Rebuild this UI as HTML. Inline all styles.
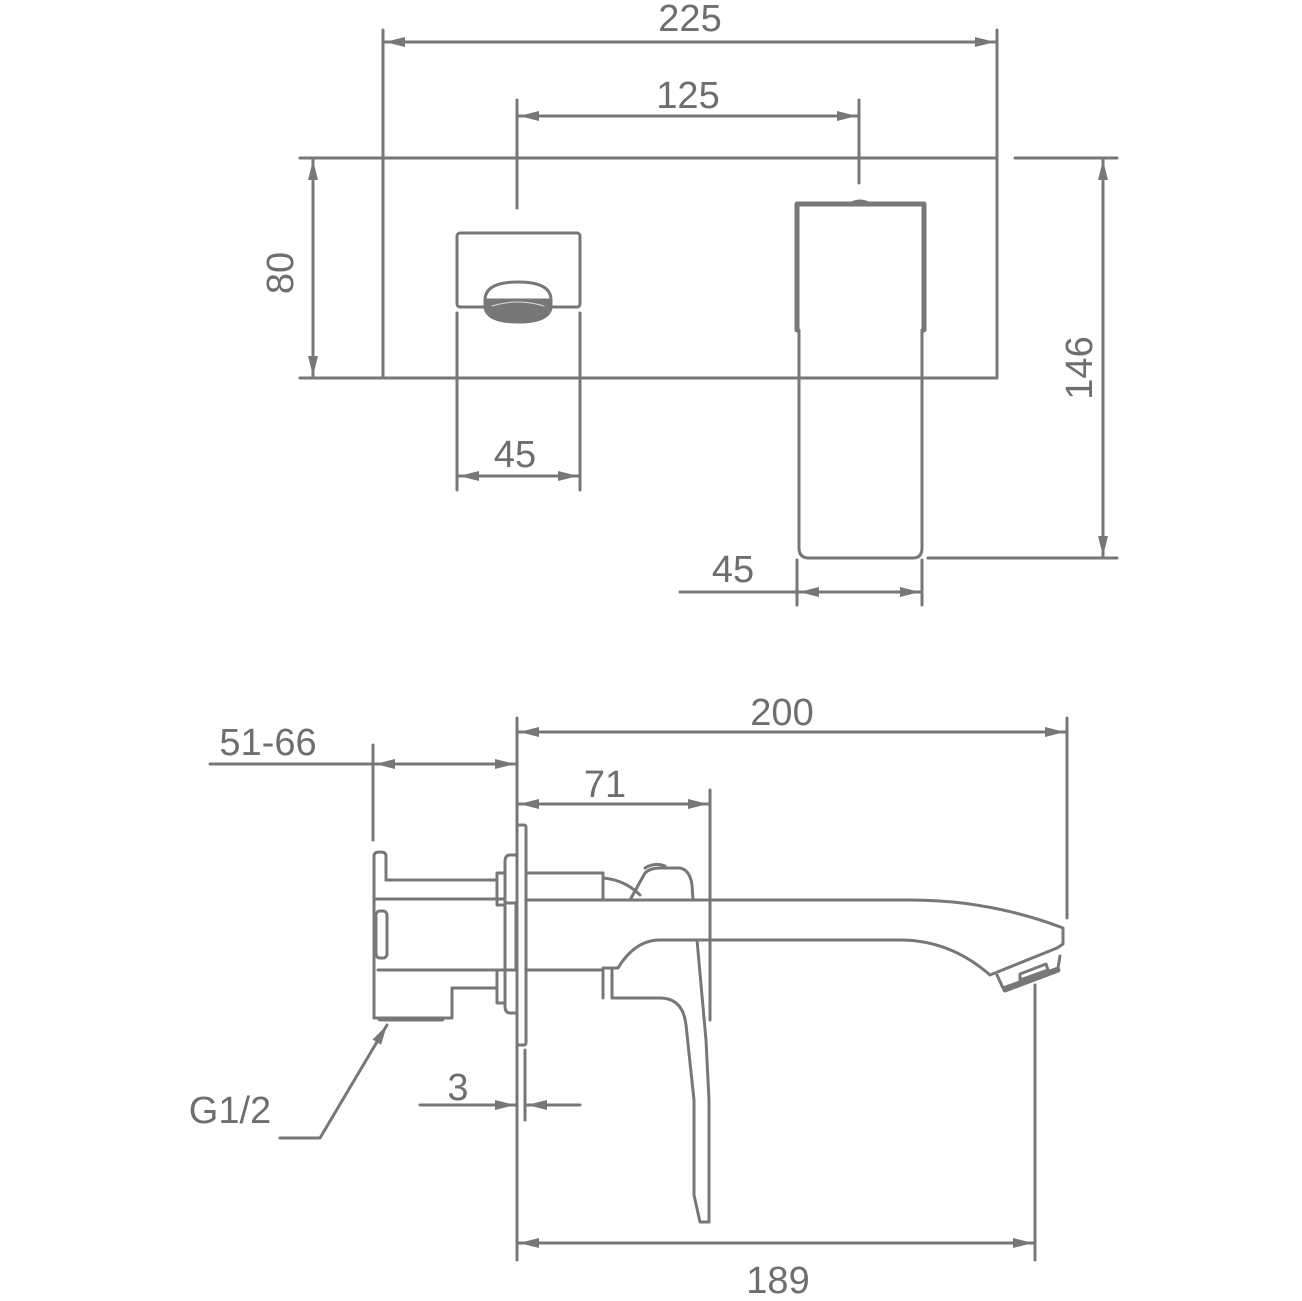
<!DOCTYPE html>
<html><head><meta charset="utf-8"><style>
html,body{margin:0;padding:0;background:#fff}
svg{display:block}
text{font-family:"Liberation Sans",Arial,sans-serif;font-size:38px;fill:#6e6e6e}
</style></head><body>
<svg width="1302" height="1301" viewBox="0 0 1302 1301" xmlns="http://www.w3.org/2000/svg">
<defs>
<marker id="a" viewBox="0 0 20 10" refX="20" refY="5" markerWidth="20" markerHeight="10" markerUnits="userSpaceOnUse" orient="auto-start-reverse">
<path d="M0,0 L20,5 L0,10 Z" fill="#777"/></marker>
</defs>
<g stroke="#777" stroke-width="3" fill="none" stroke-linecap="round" stroke-linejoin="round">
<!-- top dims -->
<line x1="383" y1="30" x2="383" y2="158"/><line x1="997" y1="30" x2="997" y2="158"/>
<line x1="385" y1="42" x2="995" y2="42" marker-start="url(#a)" marker-end="url(#a)"/>
<line x1="517" y1="100" x2="517" y2="208"/><line x1="859" y1="100" x2="859" y2="183"/>
<line x1="519" y1="116" x2="857" y2="116" marker-start="url(#a)" marker-end="url(#a)"/>
<rect x="383" y="158" width="614" height="220"/>
<line x1="300" y1="158" x2="383" y2="158"/><line x1="300" y1="378" x2="383" y2="378"/>
<line x1="313" y1="160" x2="313" y2="376" marker-start="url(#a)" marker-end="url(#a)"/>
<line x1="1015" y1="158" x2="1117" y2="158"/><line x1="928" y1="558" x2="1117" y2="558"/>
<line x1="1103" y1="160" x2="1103" y2="556" marker-start="url(#a)" marker-end="url(#a)"/>
<rect x="457" y="233" width="123" height="74" rx="3"/>
<line x1="457" y1="313" x2="457" y2="490"/><line x1="580" y1="313" x2="580" y2="490"/>
<line x1="459" y1="476" x2="578" y2="476" marker-start="url(#a)" marker-end="url(#a)"/>
<path d="M485,300 Q485,282 518,282 Q551,282 551,300"/>
<path d="M485,300 L485,308 Q488,322 518,322 Q548,322 551,308 L551,300 Z" fill="#777"/>
<path d="M492,306 Q518,298 544,306" stroke="#ddd" stroke-width="1"/>
<path d="M797,330 V204 H924 V330" stroke-width="5"/>
<path d="M850,204 Q860,198 870,204" />
<path d="M799,330 V548 Q799,558 809,558 H913 Q922,558 922,548 V330"/>
<line x1="797" y1="560" x2="797" y2="605"/><line x1="922" y1="560" x2="922" y2="605"/>
<line x1="680" y1="592" x2="920" y2="592" marker-end="url(#a)"/>
<line x1="920" y1="592" x2="799" y2="592" marker-end="url(#a)"/>
<!-- bottom dims -->
<line x1="517" y1="718" x2="517" y2="1260"/>
<line x1="1067" y1="718" x2="1067" y2="918"/>
<line x1="519" y1="732" x2="1065" y2="732" marker-start="url(#a)" marker-end="url(#a)"/>
<line x1="373" y1="745" x2="373" y2="840"/>
<line x1="210" y1="764" x2="515" y2="764" marker-end="url(#a)"/>
<line x1="515" y1="764" x2="375" y2="764" marker-end="url(#a)"/>
<line x1="710" y1="790" x2="710" y2="1020"/>
<line x1="519" y1="804" x2="708" y2="804" marker-start="url(#a)" marker-end="url(#a)"/>
<line x1="525" y1="1050" x2="525" y2="1120"/>
<line x1="420" y1="1105" x2="515" y2="1105" marker-end="url(#a)"/>
<line x1="580" y1="1105" x2="527" y2="1105" marker-end="url(#a)"/>
<line x1="1035" y1="985" x2="1035" y2="1260"/>
<line x1="519" y1="1243" x2="1033" y2="1243" marker-start="url(#a)" marker-end="url(#a)"/>
<polyline points="280,1138 320,1138 387,1025" marker-end="url(#a)"/>
<!-- side body -->
<path d="M374,1018 V856 Q374,852 380,852 Q386,852 386,856 V880"/>
<line x1="386" y1="880" x2="497" y2="880"/>
<line x1="374" y1="899" x2="505" y2="899"/>
<rect x="376" y="911" width="11" height="47" rx="4"/>
<line x1="378" y1="970" x2="497" y2="970"/>
<path d="M497,988 H452 V1018 H374"/>
<line x1="380" y1="1019" x2="442" y2="1019" stroke-width="5"/>
<rect x="497" y="873" width="8" height="32"/>
<rect x="497" y="970" width="8" height="33"/>
<path d="M516,855 H510 Q505,855 505,862 V1006 Q505,1013 510,1013 H516"/>
<rect x="505" y="903" width="11" height="67"/>
<rect x="517" y="825" width="9" height="220" rx="2"/>
<path d="M527,873 H603 V900"/>
<path d="M603,878 Q625,880 640,895"/>
<path d="M630,900 L645,873 Q650,868 660,868 H680 Q690,870 692,885 L693,900"/>
<path d="M645,868 Q655,862 665,866"/>
<path d="M527,900 H910 Q990,900 1063,928 V944 L1057,948"/>
<path d="M527,970 H603 V998"/>
<path d="M603,968 H612 V998"/>
<path d="M612,968 H618 Q635,940 660,940 H900 Q950,940 990,975 L1057,948"/>
<path d="M997,975 L1003,988 L1058,968 L1060,956"/>
<path d="M1005,990 L1058,970" stroke-width="5"/>
<path d="M1020,980 L1048,970 L1046,964 L1020,974 Z"/>
<path d="M612,998 H660 Q683,998 686,1025 L694,1100 V1195 L700,1222 H709 V1100 L706,1040 L697,940"/>
</g>
<g>
<text x="690" y="31" text-anchor="middle">225</text>
<text x="688" y="108" text-anchor="middle">125</text>
<text transform="translate(293,273) rotate(-90)" text-anchor="middle">80</text>
<text transform="translate(1092,368) rotate(-90)" text-anchor="middle">146</text>
<text x="515" y="467" text-anchor="middle">45</text>
<text x="733" y="582" text-anchor="middle">45</text>
<text x="782" y="725" text-anchor="middle">200</text>
<text x="268" y="755" text-anchor="middle">51-66</text>
<text x="605" y="797" text-anchor="middle">71</text>
<text x="458" y="1100" text-anchor="middle">3</text>
<text x="230" y="1123" text-anchor="middle">G1/2</text>
<text x="778" y="1293" text-anchor="middle">189</text>
</g>
</svg>
</body></html>
